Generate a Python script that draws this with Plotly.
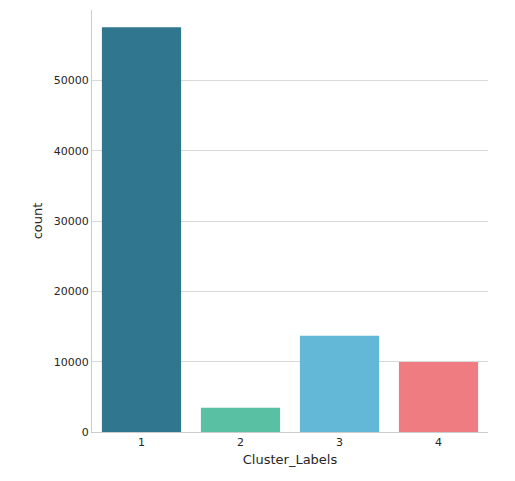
import plotly.graph_objects as go

categories = ["1", "2", "3", "4"]
counts = [57550, 3450, 13700, 9950]
colors = ["#31768f", "#59c0a3", "#62b8d6", "#ee7c80"]

fig = go.Figure(go.Bar(x=categories, y=counts, marker_color=colors,
                       marker_line_width=0, width=0.8))

fig.update_layout(
    width=515, height=481,
    margin=dict(l=84, r=35, t=2, b=57),
    plot_bgcolor="white", paper_bgcolor="white",
    font=dict(family="DejaVu Sans", color="#262626", size=11),
    showlegend=False,
    xaxis=dict(title=dict(text="Cluster_Labels", font=dict(size=13), standoff=6),
               showline=True, linecolor="#cccccc", linewidth=1.2,
               ticks="", showgrid=False, range=[-0.5, 3.5]),
    yaxis=dict(title=dict(text="count", font=dict(size=13), standoff=8),
               range=[0, 60000], dtick=10000, tickformat="d",
               showline=True, linecolor="#cccccc", linewidth=1.2,
               gridcolor="#d9d9d9", zeroline=False, ticks=""),
)

fig.write_html("out.html")
